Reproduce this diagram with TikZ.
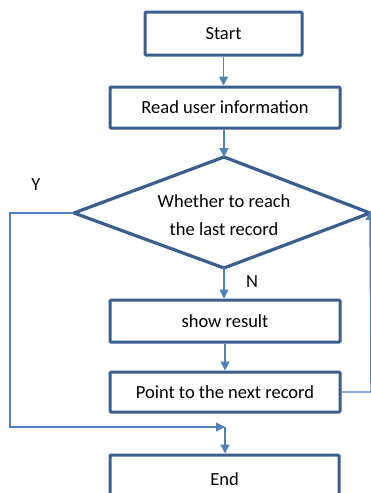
\documentclass[tikz,border=0pt]{standalone}
\usepackage{fontspec}
\setmainfont{Carlito}
\usetikzlibrary{arrows.meta}
\definecolor{boxc}{HTML}{3A5F8E}
\definecolor{arrc}{HTML}{4F81BD}
\begin{document}
\begin{tikzpicture}[x=1pt,y=-1pt,
  box/.style={draw=boxc,line width=3pt,rounded corners=1pt,inner sep=0pt},
  conn/.style={draw=arrc,line width=1.4pt},
  arr/.style={conn,-{Triangle[length=9pt,width=9pt]}},
  txt/.style={font=\fontsize{18.5}{28}\selectfont,align=center,text=black}]
\useasboundingbox (0,0) rectangle (371,493);
\node[box,minimum width=157pt,minimum height=43pt] (start) at (223.5,33.5) {};
\node[txt] at (start.center) {Start};
\node[box,minimum width=230pt,minimum height=41pt] (read) at (225,107.5) {};
\node[txt] at (read.center) {Read user information};
\coordinate (dt) at (224,157);
\coordinate (dl) at (74,213);
\coordinate (dr) at (370,213);
\coordinate (db) at (224,268);
\draw[boxc,line width=3.2pt,line join=miter] (dt) -- (dr) -- (db) -- (dl) -- cycle;
\node[txt] (dec) at (224,215) {Whether to reach\\the last record};
\node[box,minimum width=230pt,minimum height=42pt] (show) at (225,321) {};
\node[txt] at (show.center) {show result};
\node[box,minimum width=230pt,minimum height=40pt] (point) at (225,392) {};
\node[txt] at (point.center) {Point to the next record};
\node[box,minimum width=229pt,minimum height=60pt] (end) at (224.5,485) {};
\node[txt] at (224.5,479) {End};
\node[txt] (Y) at (36,185) {Y};
\node[txt] (N) at (252,282) {N};
\coordinate (m) at (225,427);
\coordinate (ytl) at (10,213);
\coordinate (ybl) at (10,427);
\coordinate (rb) at (371,392);
\draw[arr] (start.south) -- (start.south |- read.north);
\draw[arr] (read.south -| dt) -- (dt);
\draw[arr] (db) -- (db |- show.north);
\draw[arr] (show.south) -- (point.north);
\draw[arr] (dl) -- (ytl) -- (ybl) -- (m);
\draw[arr] (m) -- (m |- end.north);
\draw[arr] (point.east) -- (rb) -- ([yshift=2pt]dr);
\end{tikzpicture}
\end{document}
